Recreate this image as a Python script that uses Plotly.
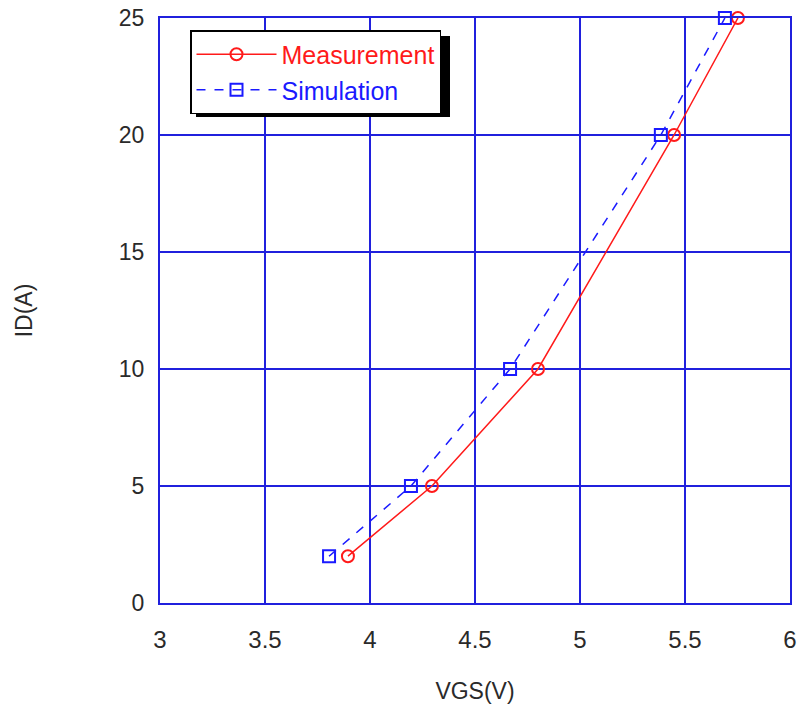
import plotly.graph_objects as go

vgs_meas = [3.895, 4.295, 4.80, 5.448, 5.752]
id_meas = [2, 5, 10, 20, 25]
vgs_sim = [3.805, 4.195, 4.667, 5.385, 5.69]
id_sim = [2, 5, 10, 20, 25]
x_ticks = [3, 3.5, 4, 4.5, 5, 5.5, 6]
y_ticks = [0, 5, 10, 15, 20, 25]

W, H = 799, 707
L, T = 160, 18
PR, PB = 790, 603          # plot right / bottom in pixels
R, B = W - PR, H - PB
pw, ph = PR - L, PB - T

def px(x):
    return (x - L) / pw

def py(y):
    return 1 - (y - T) / ph

FONT = "Liberation Sans, Arial"
RED = "#ff1a1a"
BLUE = "#1a1aff"

fig = go.Figure()
fig.add_trace(go.Scatter(
    x=vgs_meas, y=id_meas, mode="lines+markers",
    name=f"<span style='color:{RED}'>Measurement</span>",
    line=dict(color=RED, width=1.5),
    marker=dict(symbol="circle-open", size=12, color=RED, line=dict(width=2)),
    cliponaxis=False,
))
fig.add_trace(go.Scatter(
    x=vgs_sim, y=id_sim, mode="lines+markers",
    name=f"<span style='color:{BLUE}'>Simulation</span>",
    line=dict(color=BLUE, width=1.5, dash="dash"),
    marker=dict(symbol="square-open", size=12, color=BLUE, line=dict(width=2)),
    cliponaxis=False,
))

# legend drop shadow
fig.add_shape(type="rect", xref="paper", yref="paper",
              x0=px(196), x1=px(450), y0=py(117), y1=py(36),
              fillcolor="black", line=dict(width=0), layer="above")

axis_common = dict(
    showgrid=True, gridcolor="#2020dd", gridwidth=2,
    showline=True, linecolor="#2020dd", linewidth=2, mirror=True,
    zeroline=False, ticks="", ticklabeloverflow="allow", automargin=False,
    title_font=dict(family=FONT, size=23, color="#2a2a2a"),
)

fig.update_xaxes(range=[3, 6], tickvals=x_ticks, ticktext=[str(v) for v in x_ticks],
                 tickfont=dict(family=FONT, size=24, color="#2a2a2a"),
                 title_text="VGS(V)", title_standoff=31, ticklabelstandoff=14,
                 **axis_common)
fig.update_yaxes(range=[0, 25], tickvals=y_ticks,
                 tickfont=dict(family=FONT, size=23, color="#2a2a2a"),
                 title_text="ID(A)", title_standoff=80, ticklabelstandoff=9,
                 **axis_common)

fig.update_layout(
    width=W, height=H,
    margin=dict(l=L, r=R, t=T, b=B, pad=0),
    paper_bgcolor="white", plot_bgcolor="white",
    showlegend=True,
    legend=dict(
        x=px(190), y=py(30), xanchor="left", yanchor="top",
        bgcolor="white", bordercolor="black", borderwidth=1.5,
        font=dict(family=FONT, size=25),
        itemwidth=80, tracegroupgap=0,
    ),
)

fig.write_html("out.html", config={"displayModeBar": False},
               post_script="document.documentElement.style.overflow='hidden';document.body.style.margin='0px';document.body.style.overflow='hidden';")
